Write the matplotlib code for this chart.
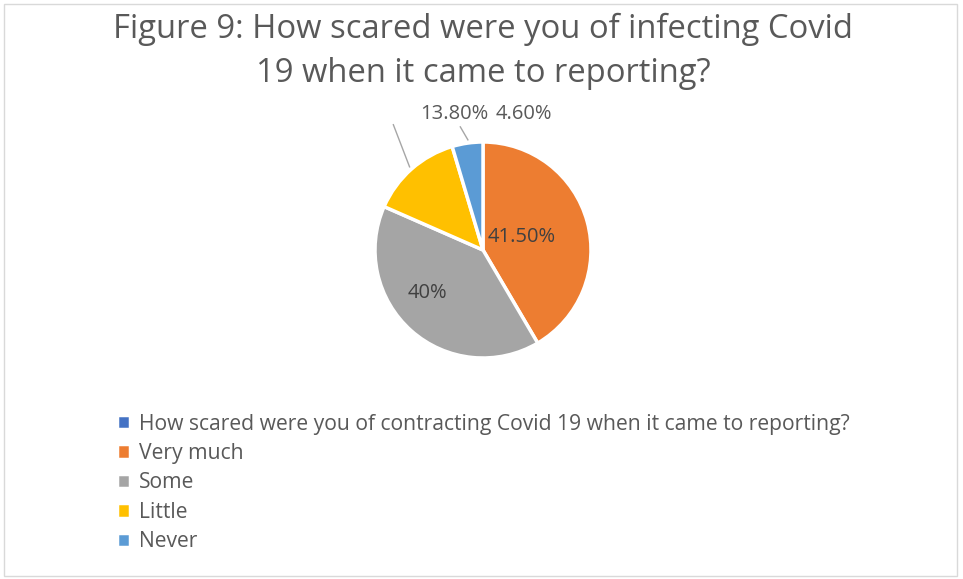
import matplotlib
matplotlib.use("Agg")
import matplotlib.pyplot as plt
from matplotlib.patches import Rectangle

plt.rcParams['font.family'] = ['Open Sans', 'DejaVu Sans']

# survey answers
categories = ["How scared were you of contracting Covid 19 when it came to reporting?",
              "Very much", "Some", "Little", "Never"]
values = [0, 41.5, 40, 13.8, 4.6]
label_text = ["", "41.50%", "40%", "13.80%", "4.60%"]
colors = ["#4472C4", "#ED7D31", "#A5A5A5", "#FFC000", "#5B9BD5"]

W, H = 963, 579
fig = plt.figure(figsize=(W / 100, H / 100), dpi=100)
fig.patches.append(Rectangle((4 / W, 3 / H), 953 / W, 572 / H, transform=fig.transFigure,
                             fill=False, edgecolor="#D9D9D9", linewidth=1))

fig.text(483 / W, 1 - 29 / H, "Figure 9: How scared were you of infecting Covid",
         ha="center", va="center", fontsize=23.6, color="#595959")
fig.text(483 / W, 1 - 74 / H, "19 when it came to reporting?",
         ha="center", va="center", fontsize=23.6, color="#595959")

# pie: radius 108 px centred at (483, 250)
R = 108
span = 1.3
cx, cy = 483, 250
ax = fig.add_axes([(cx - R * span) / W, 1 - (cy + R * span) / H, 2 * R * span / W, 2 * R * span / H])
wedges, _ = ax.pie(values, colors=colors, startangle=90, counterclock=False,
                   wedgeprops=dict(edgecolor="white", linewidth=2.5))
ax.set_xlim(-span, span)
ax.set_ylim(-span, span)
ax.set_aspect("equal")
ax.axis("off")

lab_col = "#404040"
ax.text(0.36, 0.12, label_text[1], ha="center", va="center", fontsize=14.5, color=lab_col)
ax.text(-0.51, -0.40, label_text[2], ha="center", va="center", fontsize=14.5, color=lab_col)
ax.text(0.046, 1.26, label_text[3], ha="right", va="center", fontsize=14.5, color="#595959")
ax.text(0.115, 1.26, label_text[4], ha="left", va="center", fontsize=14.5, color="#595959")
# leader lines
ax.plot([-0.83, -0.68], [1.16, 0.77], color="#A6A6A6", lw=1)
ax.plot([-0.21, -0.14], [1.14, 1.02], color="#A6A6A6", lw=1)

leg = fig.legend(wedges, categories, loc="upper left", bbox_to_anchor=(106 / W, 1 - 403 / H),
                 frameon=False, fontsize=15.2, handlelength=0.66, handleheight=0.66,
                 handletextpad=0.4, labelspacing=0.4, borderpad=0)
for t in leg.get_texts():
    t.set_color("#595959")

fig.savefig("out.png", dpi=100)
